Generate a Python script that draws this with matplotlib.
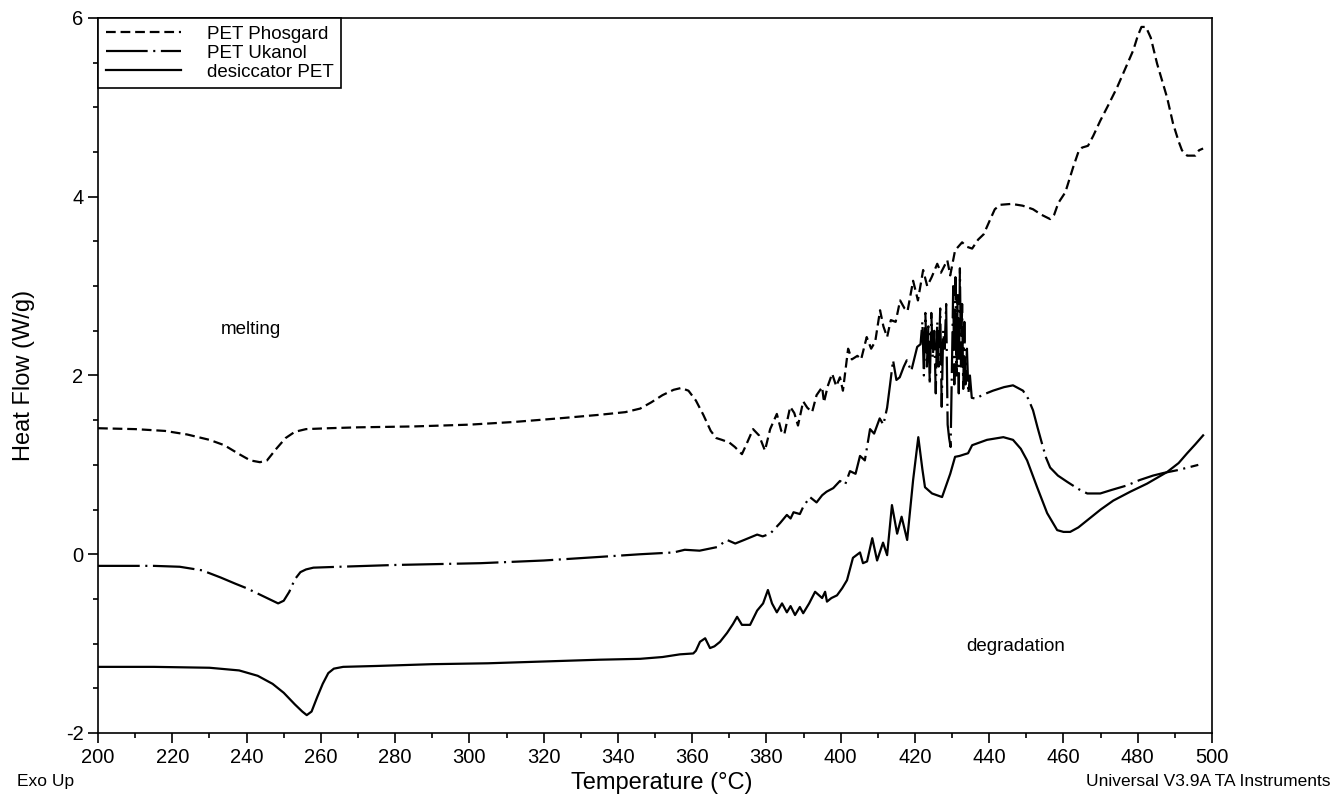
import matplotlib
matplotlib.use('Agg')
import matplotlib.pyplot as plt
from matplotlib.ticker import MultipleLocator

plt.rcParams['font.family'] = ['Liberation Sans', 'DejaVu Sans']
plt.rcParams['lines.scale_dashes'] = False
plt.rcParams['axes.unicode_minus'] = False

# PET Phosgard run (dashed)
phos_t = [200, 210, 218, 224, 230, 234, 238, 241, 243.6, 245.5, 248, 250.5, 253, 256,
          262, 270, 285, 300, 312, 324, 335, 342, 346, 349, 352, 355, 357, 359, 361,
          363, 365, 366.5, 368, 370, 371.5, 373.4, 374.5, 376.4, 378, 379.6, 381,
          382.8, 384, 384.8, 386.4, 387.5, 388.5, 389.9, 391, 392.3, 393.5, 395,
          395.5, 396.5, 397.7, 398.8, 399.8, 400.6, 402, 403, 404.5, 405.5, 407,
          408.2, 409.3, 410.6, 411.5, 412.5, 413.5, 414.8, 416, 417.2, 418, 419.5,
          420.8, 422.2, 423.3, 424.5, 426, 427, 428.7, 429.5, 430.8, 432.7, 434,
          435.4, 437, 438.5, 440.2, 441.5, 443, 446, 449, 451.8, 454, 456.4, 457.5,
          458.6, 460.5, 462.6, 464, 465, 466.6, 468, 469.9, 472, 474.4, 476.5,
          478.8, 480, 481, 482.2, 483.5, 485.2, 487.9, 489.5, 491, 491.9, 493.3,
          495.5, 496.5, 497.6]
phos_hf = [1.41, 1.40, 1.38, 1.34, 1.28, 1.22, 1.12, 1.05, 1.03, 1.05, 1.18, 1.30, 1.37,
           1.40, 1.41, 1.42, 1.43, 1.45, 1.48, 1.52, 1.56, 1.59, 1.63, 1.70, 1.78, 1.84,
           1.86, 1.83, 1.72, 1.56, 1.38, 1.30, 1.28, 1.25, 1.20, 1.12, 1.22, 1.40, 1.33,
           1.16, 1.40, 1.57, 1.38, 1.34, 1.65, 1.58, 1.44, 1.71, 1.64, 1.59, 1.78, 1.87,
           1.70, 1.88, 2.02, 1.88, 1.98, 1.83, 2.30, 2.18, 2.22, 2.18, 2.43, 2.30, 2.38,
           2.73, 2.55, 2.43, 2.62, 2.60, 2.84, 2.75, 2.72, 3.06, 2.84, 3.18, 3.00, 3.10,
           3.25, 3.15, 3.29, 3.12, 3.40, 3.49, 3.44, 3.42, 3.52, 3.58, 3.74, 3.86, 3.91,
           3.92, 3.90, 3.86, 3.80, 3.75, 3.80, 3.93, 4.05, 4.33, 4.50, 4.55, 4.57, 4.68,
           4.85, 5.02, 5.22, 5.42, 5.64, 5.80, 5.90, 5.90, 5.78, 5.49, 5.11, 4.82, 4.62,
           4.52, 4.46, 4.46, 4.52, 4.54]

# PET Ukanol run (dash-dot)
ukan_t = [200, 215, 222, 228, 233, 237, 240, 243, 246, 248.5, 250, 251.5, 253, 254.5,
          256, 258, 265, 280, 303, 320, 335, 346, 355, 358, 362, 366.7, 369.4, 371.6,
          374, 377.5, 379, 381, 383.7, 385.5, 386.5, 387.3, 389, 389.9, 391.7, 393.5,
          395, 396.2, 398, 399.8, 401.2, 402.5, 404, 405.2, 406.5, 407.9, 409, 410.5,
          411.5, 412.5, 413.3, 414.1, 415, 415.9, 417, 417.8, 419, 420.6, 421.5, 422.0,
          422.4, 422.8, 423.2, 423.6, 424.0, 424.4, 424.8, 425.2, 425.6, 426.0, 426.4,
          426.8, 427.2, 427.6, 428.0, 428.4, 428.8, 429.2, 429.6, 430.0, 430.3, 430.6,
          430.9, 431.2, 431.5, 431.8, 432.1, 432.4, 432.7, 433.0, 433.3, 433.6, 434.0,
          434.4, 434.8, 435.3, 436.5, 438, 441, 444, 446.4, 449.1, 450.5, 451.8, 453,
          454.2, 455.3, 456.4, 458.5, 461, 464, 466.4, 469.9, 473, 477.1, 480.5, 484.1,
          487, 490.6, 493.5, 496.3]
ukan_hf = [-0.13, -0.13, -0.14, -0.18, -0.26, -0.33, -0.38, -0.44, -0.50, -0.55, -0.52,
           -0.42, -0.28, -0.20, -0.17, -0.15, -0.14, -0.12, -0.10, -0.07, -0.03, 0.0,
           0.02, 0.05, 0.04, 0.08, 0.16, 0.12, 0.16, 0.22, 0.20, 0.23, 0.35, 0.44, 0.40,
           0.47, 0.45, 0.53, 0.64, 0.58, 0.66, 0.70, 0.74, 0.82, 0.78, 0.93, 0.90, 1.10,
           1.05, 1.40, 1.35, 1.52, 1.45, 1.64, 1.90, 2.17, 1.95, 1.98, 2.10, 2.17, 2.05,
           2.32, 2.35, 2.60, 2.00, 2.70, 2.10, 2.55, 1.90, 2.70, 2.20, 2.50, 1.80, 2.60,
           2.10, 2.75, 1.65, 2.50, 2.30, 2.80, 1.45, 1.30, 1.20, 2.20, 3.00, 1.90, 3.10,
           2.00, 2.90, 1.80, 3.20, 2.10, 2.80, 1.85, 2.60, 1.90, 2.30, 1.80, 2.00, 1.75,
           1.74, 1.78, 1.83, 1.87, 1.89, 1.83, 1.74, 1.61, 1.42, 1.24, 1.08, 0.97, 0.88,
           0.81, 0.73, 0.68, 0.68, 0.72, 0.77, 0.83, 0.88, 0.91, 0.94, 0.97, 1.00]

# desiccator PET run (solid)
desi_t = [200, 215, 230, 238, 243, 247, 250, 253, 255, 256.2, 257.5, 259, 260.5, 262,
          263.5, 266, 275, 290, 305, 320, 335, 346, 352, 356.7, 360.3, 361, 362.1,
          363.5, 364.8, 366, 367.5, 369.4, 371, 372.1, 373.4, 375.6, 377.5, 379.1,
          380.4, 381.5, 382.8, 384.2, 385.5, 386.5, 387.7, 389, 389.9, 391.5, 393.1,
          395, 395.8, 396.3, 397.5, 399, 400.4, 401.7, 403.3, 405.2, 406, 407.1, 408.5,
          409.8, 411.4, 412.5, 413.8, 415.2, 416.4, 417.9, 419.5, 420.9, 422, 422.7,
          424.6, 427.3, 429.5, 430.8, 432, 433.5, 434.3, 435.4, 439.4, 443.8, 446.4,
          448.5, 450.2, 452.9, 455.6, 458.3, 460, 461.8, 464, 466.4, 470, 473.4, 478,
          482.5, 487.9, 491, 493.3, 495.5, 497.6]
desi_hf = [-1.26, -1.26, -1.27, -1.30, -1.36, -1.45, -1.55, -1.68, -1.76, -1.80, -1.76,
           -1.60, -1.45, -1.33, -1.28, -1.26, -1.25, -1.23, -1.22, -1.20, -1.18, -1.17,
           -1.15, -1.12, -1.11, -1.08, -0.98, -0.94, -1.05, -1.03, -0.98, -0.88, -0.78,
           -0.70, -0.79, -0.79, -0.63, -0.55, -0.40, -0.55, -0.65, -0.55, -0.65, -0.58,
           -0.68, -0.59, -0.66, -0.55, -0.42, -0.49, -0.42, -0.53, -0.49, -0.46, -0.38,
           -0.29, -0.04, 0.02, -0.10, -0.08, 0.18, -0.07, 0.13, -0.01, 0.55, 0.23, 0.42,
           0.16, 0.83, 1.31, 0.95, 0.75, 0.68, 0.64, 0.90, 1.09, 1.10, 1.12, 1.13, 1.22,
           1.28, 1.31, 1.28, 1.18, 1.05, 0.75, 0.46, 0.27, 0.25, 0.25, 0.30, 0.38, 0.50,
           0.60, 0.70, 0.79, 0.92, 1.02, 1.13, 1.23, 1.33]

fig = plt.figure(figsize=(13.36, 8.07), dpi=100)
ax = fig.add_axes([0.0734, 0.0917, 0.8338, 0.886])

lw = 1.6
ax.plot(phos_t, phos_hf, color='black', lw=lw, dashes=(7, 3.5), label='PET Phosgard')
ax.plot(ukan_t, ukan_hf, color='black', lw=lw, dashes=(30, 4, 1.5, 4), label='PET Ukanol')
ax.plot(desi_t, desi_hf, color='black', lw=lw, label='desiccator PET')

ax.set_xlim(200, 500)
ax.set_ylim(-2, 6)
ax.xaxis.set_major_locator(MultipleLocator(20))
ax.xaxis.set_minor_locator(MultipleLocator(10))
ax.yaxis.set_major_locator(MultipleLocator(2))
ax.yaxis.set_minor_locator(MultipleLocator(0.5))
ax.tick_params(which='both', direction='out', width=1.2, labelsize=14.5)
ax.tick_params(which='major', length=7)
ax.tick_params(which='minor', length=3.5)
for s in ax.spines.values():
    s.set_linewidth(1.2)

ax.set_ylabel('Heat Flow (W/g)', fontsize=17)
ax.yaxis.set_label_coords(-0.057, 0.5)
fig.text(0.495, 0.030, 'Temperature (°C)', fontsize=17, ha='center', va='center')
fig.text(0.013, 0.031, 'Exo Up', fontsize=12.5, ha='left', va='center')
fig.text(0.996, 0.031, 'Universal V3.9A TA Instruments', fontsize=12.5, ha='right', va='center')

ax.text(241.2, 2.51, 'melting', fontsize=13.5, ha='center', va='center')
ax.text(447, -1.03, 'degradation', fontsize=13.5, ha='center', va='center')

leg = ax.legend(loc='upper left', borderaxespad=0, fontsize=13.5, handlelength=4.0,
                handletextpad=1.4, labelspacing=0.1, borderpad=0.4, fancybox=False,
                framealpha=1, edgecolor='black')
leg.get_frame().set_linewidth(1.2)

fig.savefig('out.png', dpi=100)
